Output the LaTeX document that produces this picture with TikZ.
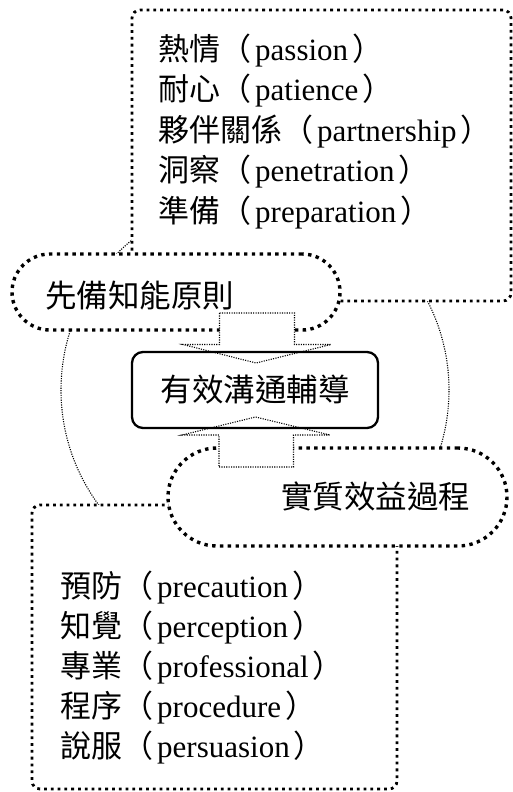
\documentclass[tikz,border=0pt]{standalone}
\usepackage{fontspec}
\setmainfont{Liberation Serif}
\newfontfamily\cjk{Noto Sans CJK TC}
\newcommand\zh[1]{{\cjk #1}}
\newcommand\lp{\zh{（}\hspace{4pt}}
\newcommand\rp{\hspace{4pt}\zh{）}}
\begin{document}
\begin{tikzpicture}[x=1pt,y=-1pt,
  boxline/.style={line width=2.8pt, dash pattern=on 2.8pt off 4pt},
  pillline/.style={line width=3.4pt, dash pattern=on 3.4pt off 4.4pt},
  thinline/.style={line width=1.1pt, dash pattern=on 1.1pt off 1.3pt},
  listbox/.style={draw, boxline, fill=white, rounded corners=8pt, inner sep=0pt},
  pill/.style={draw, pillline, fill=white, inner sep=0pt},
  item/.style={anchor=base west, inner sep=0pt, font=\fontsize{31}{31}\selectfont},
  pilltext/.style={anchor=base west, inner sep=0pt, font=\fontsize{31.5}{31.5}\selectfont\cjk},
  blockarrow/.style={thinline, fill=white},
  hubstyle/.style={draw, line width=2.3pt, rounded corners=11pt, inner sep=0pt,
    minimum width=246pt, minimum height=76pt, font=\fontsize{31.5}{31.5}\selectfont\cjk}
]
\useasboundingbox (0,0) rectangle (513,792);
\coordinate (hub) at (255,390);
\draw[thinline] (hub) circle[radius=194pt];
% list boxes
\node[listbox, minimum width=379pt, minimum height=291pt] (topbox) at (321.5,155.5) {};
\node[listbox, minimum width=365pt, minimum height=284pt] (botbox) at (214.5,647) {};
% pills
\node[pill, minimum width=328pt, minimum height=76pt, rounded corners=38pt] (pillA) at (176,292) {};
\node[pill, minimum width=339pt, minimum height=98pt, rounded corners=49pt] (pillB) at (337.5,497) {};
\node[pilltext] (pillAtext) at (45,307) {先備知能原則};
\node[pilltext] (pillBtext) at (281,508) {實質效益過程};
% block arrows
\draw[blockarrow] (219.5,313) -- (294.5,313) -- (294.5,344.5) -- (331,344.5) -- (256,363) -- (183,344.5) -- (219.5,344.5) -- cycle;
\draw[blockarrow] (219,467) -- (293.5,467) -- (293.5,435) -- (330,435) -- (255.5,417) -- (182,435) -- (219,435) -- cycle;
% hub
\node[hubstyle] (hubbox) at (hub) {有效溝通輔導};
% top list
\node[item] (t1) at (158,60) {\zh{熱情}\lp passion\rp};
\node[item] (t2) at (158,100.5) {\zh{耐心}\lp patience\rp};
\node[item] (t3) at (158,141) {\zh{夥伴關係}\lp partnership\rp};
\node[item] (t4) at (158,181.5) {\zh{洞察}\lp penetration\rp};
\node[item] (t5) at (158,222) {\zh{準備}\lp preparation\rp};
% bottom list
\node[item] (b1) at (60,597) {\zh{預防}\lp precaution\rp};
\node[item] (b2) at (60,637) {\zh{知覺}\lp perception\rp};
\node[item] (b3) at (60,677) {\zh{專業}\lp professional\rp};
\node[item] (b4) at (60,717) {\zh{程序}\lp procedure\rp};
\node[item] (b5) at (60,757) {\zh{說服}\lp persuasion\rp};
\end{tikzpicture}
\end{document}
